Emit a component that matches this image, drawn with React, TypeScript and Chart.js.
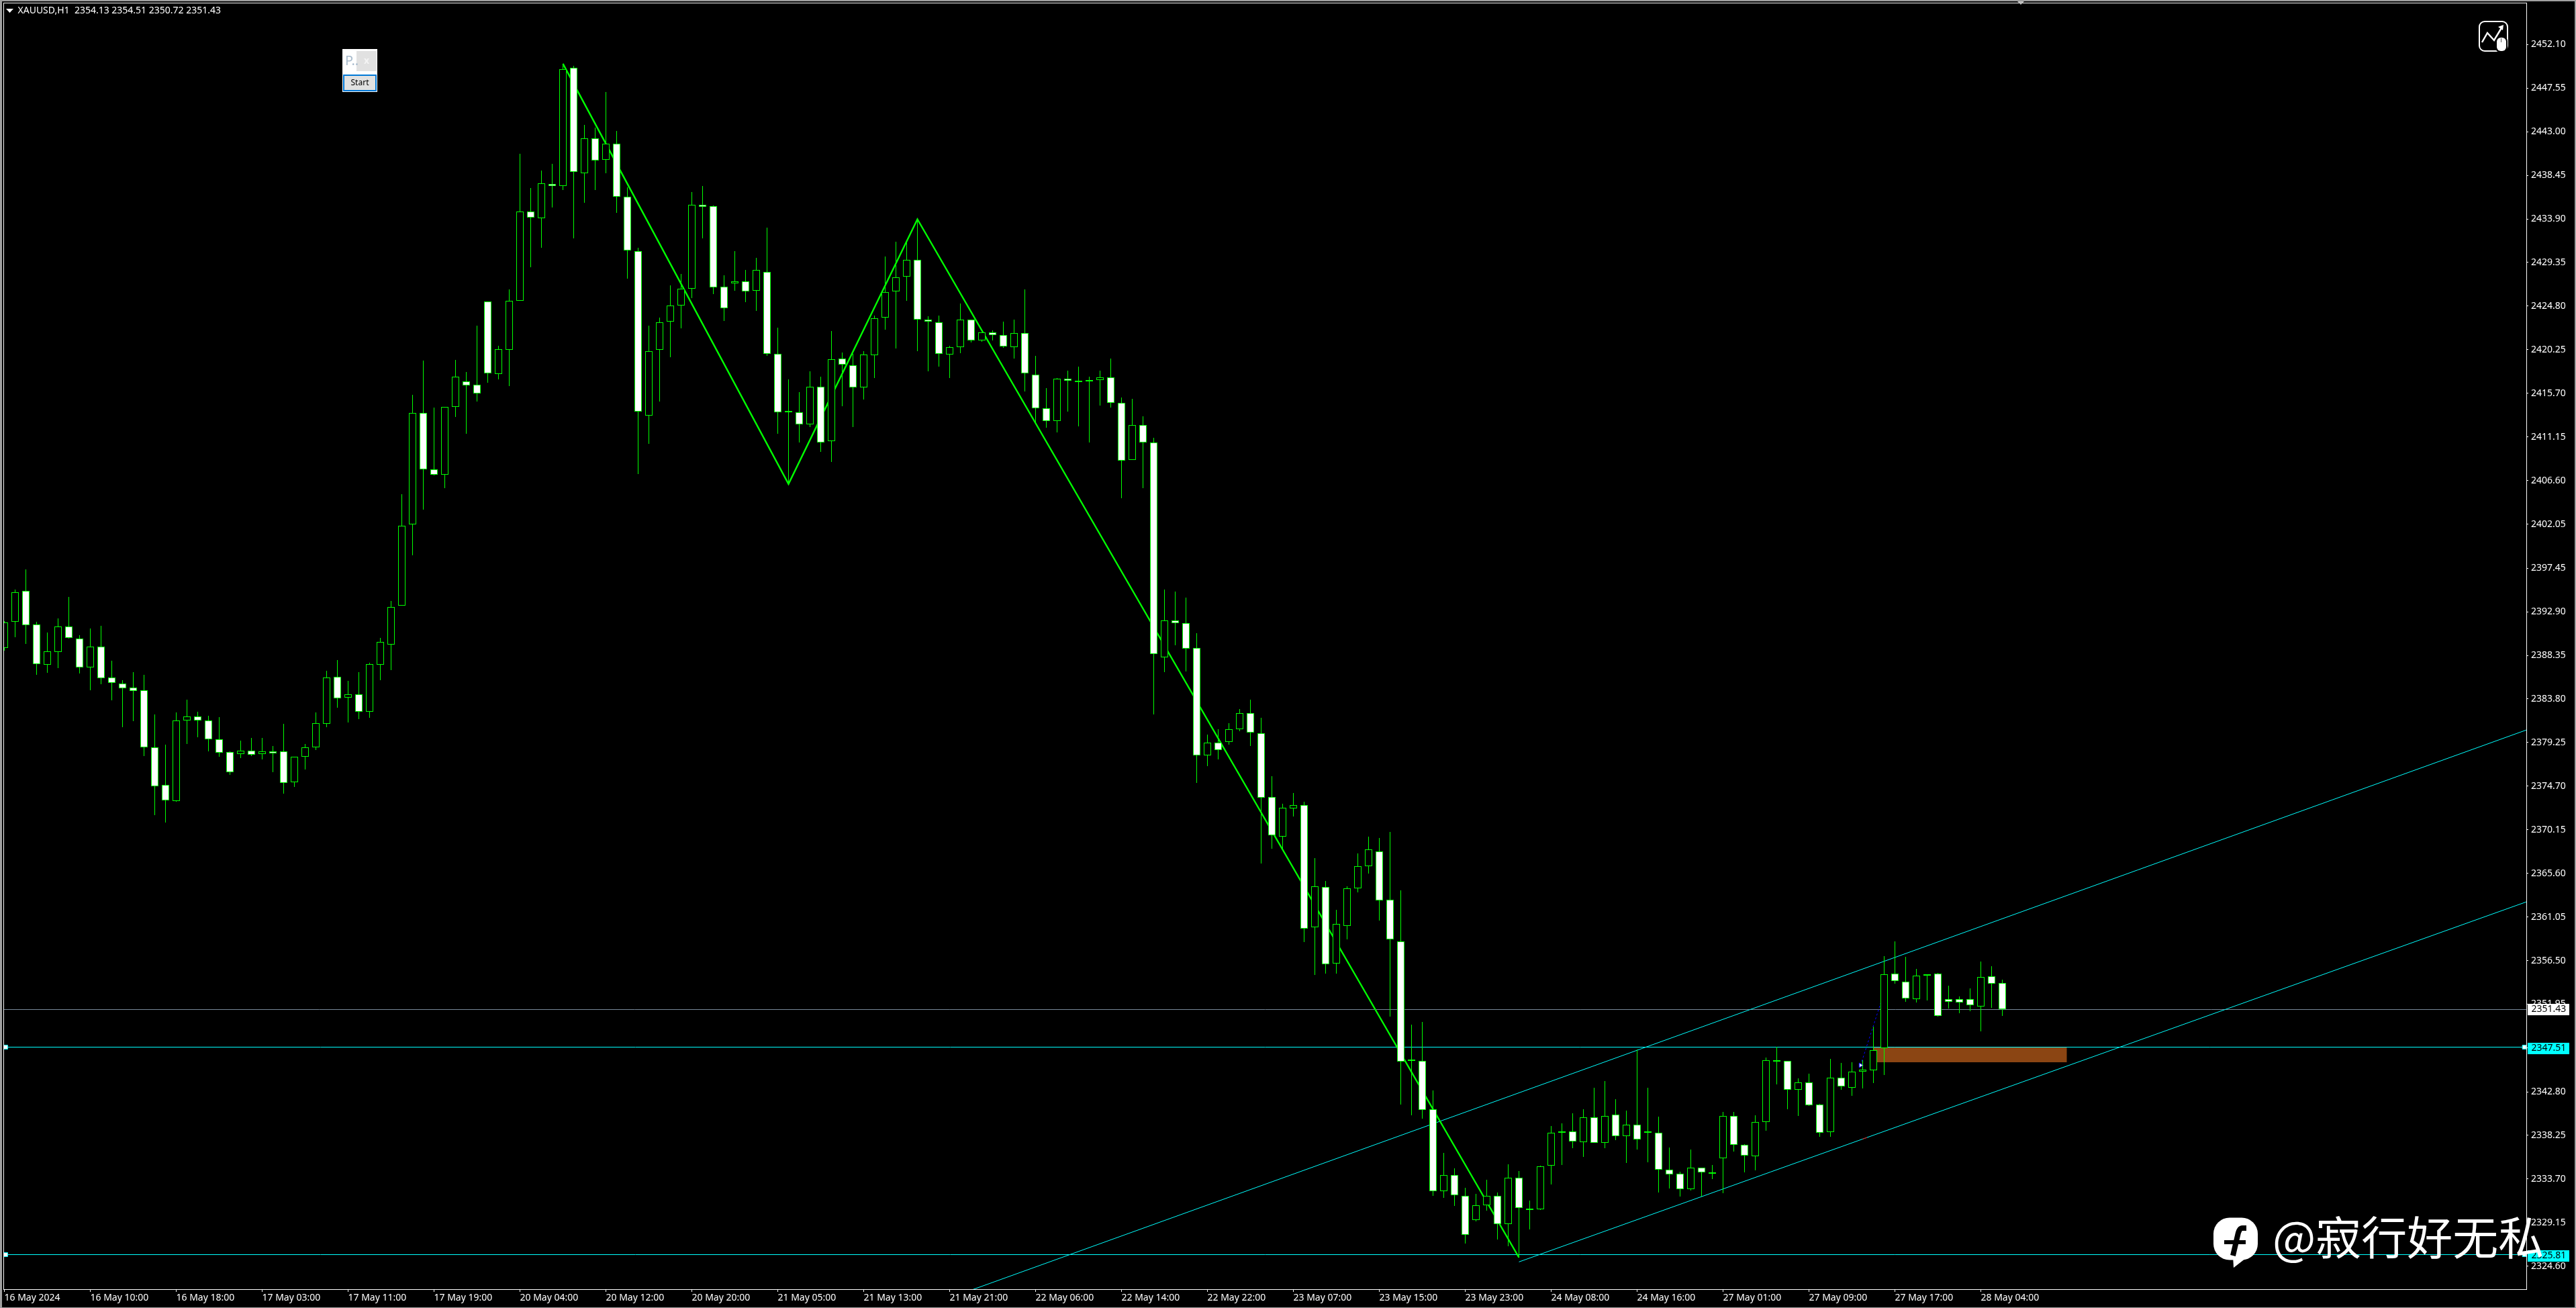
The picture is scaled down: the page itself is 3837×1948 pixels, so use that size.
import React, { useEffect, useRef } from "react";
import { Chart, registerables } from "chart.js";

Chart.register(...registerables);

// Index of the first candle (partly hidden behind the left frame)
const firstBar = -1;

const opens = [
  2389.09, 2391.87, 2395.05, 2391.55, 2387.39, 2388.72, 2391.35, 2390.14, 2387.12, 2389.24,
  2386.01, 2385.44, 2384.96, 2384.69, 2378.78, 2374.80, 2373.17, 2381.58, 2382.01, 2381.58,
  2379.56, 2378.23, 2378.08, 2378.43, 2378.08, 2378.30, 2378.30, 2375.13, 2377.78, 2378.78,
  2381.23, 2386.09, 2383.96, 2384.26, 2382.48, 2387.39, 2389.49, 2393.55, 2402.05, 2413.65,
  2407.80, 2407.24, 2414.31, 2416.97, 2416.62, 2425.26, 2417.75, 2420.25, 2425.39, 2434.65,
  2433.99, 2437.53, 2437.31, 2449.70, 2438.68, 2442.28, 2440.09, 2441.72, 2436.24, 2430.52,
  2413.40, 2420.25, 2423.19, 2424.88, 2426.64, 2435.40, 2435.21, 2426.86, 2427.20, 2427.36,
  2426.42, 2428.39, 2419.85, 2413.87, 2413.75, 2412.49, 2416.40, 2410.68, 2419.35, 2418.60,
  2416.35, 2419.71, 2423.57, 2426.36, 2427.90, 2429.65, 2423.36, 2423.14, 2419.78, 2420.50,
  2423.36, 2421.25, 2422.03, 2421.75, 2420.50, 2421.96, 2417.67, 2414.17, 2412.84, 2417.21,
  2416.85, 2417.06, 2417.06, 2417.39, 2414.67, 2408.77, 2412.41, 2410.59, 2388.17, 2392.03,
  2391.75, 2389.14, 2377.89, 2379.25, 2379.34, 2380.66, 2382.30, 2380.23, 2373.58, 2369.41,
  2372.41, 2372.74, 2359.95, 2364.16, 2356.20, 2360.13, 2364.07, 2366.37, 2367.87, 2362.85,
  2358.50, 2346.08, 2346.03, 2340.97, 2332.45, 2334.13, 2331.93, 2329.45, 2330.95, 2331.93,
  2329.03, 2333.85, 2330.62, 2330.53, 2335.07, 2338.65, 2338.64, 2337.57, 2340.11, 2337.49,
  2340.39, 2338.20, 2339.40, 2338.64, 2338.51, 2334.70, 2334.22, 2332.67, 2334.85, 2334.42,
  2335.89, 2340.26, 2337.24, 2336.10, 2339.63, 2346.10, 2346.05, 2342.98, 2343.77, 2341.50,
  2338.61, 2344.25, 2343.23, 2344.93, 2345.06, 2347.35, 2355.11, 2354.33, 2352.45, 2355.04,
  2355.11, 2352.45, 2352.45, 2352.45, 2351.71, 2354.83, 2354.13,
];

const highs = [
  2391.92, 2395.23, 2397.33, 2391.85, 2390.72, 2392.20, 2394.45, 2390.44, 2391.14, 2391.42,
  2387.79, 2385.76, 2386.59, 2386.31, 2382.18, 2379.03, 2382.38, 2383.71, 2382.46, 2382.03,
  2381.91, 2378.33, 2379.46, 2379.73, 2379.73, 2378.88, 2381.21, 2377.80, 2379.11, 2382.38,
  2386.74, 2387.86, 2385.69, 2386.59, 2387.57, 2390.17, 2394.02, 2405.16, 2415.54, 2419.13,
  2414.22, 2414.31, 2419.19, 2417.91, 2422.76, 2425.32, 2420.66, 2426.54, 2440.69, 2437.12,
  2438.93, 2439.65, 2450.10, 2449.85, 2443.72, 2443.47, 2447.16, 2443.09, 2437.18, 2430.89,
  2422.73, 2423.60, 2426.95, 2428.14, 2436.71, 2437.31, 2435.34, 2428.01, 2430.55, 2428.61,
  2429.86, 2433.02, 2422.54, 2417.16, 2415.84, 2418.03, 2417.44, 2422.19, 2419.94, 2419.82,
  2420.10, 2423.82, 2429.97, 2431.51, 2431.44, 2433.87, 2423.75, 2423.82, 2420.68, 2425.07,
  2423.36, 2422.03, 2422.29, 2423.18, 2423.36, 2426.54, 2419.60, 2416.24, 2417.31, 2418.07,
  2418.46, 2417.46, 2418.07, 2419.35, 2415.24, 2415.13, 2413.27, 2411.06, 2395.25, 2395.00,
  2394.36, 2390.68, 2380.09, 2380.66, 2381.31, 2382.72, 2383.75, 2381.87, 2375.74, 2372.88,
  2374.00, 2373.11, 2367.16, 2364.82, 2361.82, 2364.26, 2367.68, 2369.41, 2369.27, 2369.93,
  2363.84, 2349.83, 2350.11, 2342.94, 2336.43, 2334.84, 2332.77, 2332.12, 2333.62, 2332.31,
  2335.21, 2334.51, 2331.46, 2335.12, 2339.24, 2339.52, 2340.59, 2340.97, 2343.21, 2343.92,
  2342.06, 2340.85, 2347.22, 2343.21, 2340.18, 2336.99, 2334.45, 2336.76, 2334.85, 2335.16,
  2340.69, 2340.69, 2337.37, 2340.34, 2346.38, 2347.52, 2346.05, 2344.17, 2344.68, 2341.56,
  2346.23, 2345.82, 2345.87, 2346.13, 2349.63, 2356.94, 2358.47, 2356.89, 2355.60, 2355.10,
  2355.22, 2353.87, 2352.73, 2353.59, 2356.38, 2355.90, 2354.51,
];

const lows = [
  2388.87, 2390.24, 2389.54, 2386.34, 2386.51, 2387.04, 2390.09, 2386.47, 2384.74, 2385.34,
  2383.66, 2380.86, 2381.48, 2377.85, 2371.67, 2370.90, 2373.07, 2379.11, 2379.83, 2378.33,
  2377.75, 2375.88, 2377.63, 2377.83, 2377.48, 2376.15, 2373.90, 2374.60, 2376.43, 2378.45,
  2380.86, 2382.89, 2381.33, 2381.69, 2381.83, 2385.76, 2386.82, 2393.55, 2398.78, 2403.56,
  2407.14, 2405.77, 2413.21, 2411.49, 2414.81, 2416.84, 2417.19, 2416.47, 2425.39, 2428.83,
  2430.92, 2435.12, 2436.93, 2431.89, 2435.62, 2436.90, 2438.68, 2434.55, 2427.67, 2407.30,
  2410.40, 2414.81, 2419.47, 2422.51, 2425.64, 2431.89, 2426.05, 2423.26, 2426.39, 2425.23,
  2424.32, 2419.63, 2411.49, 2406.24, 2410.58, 2412.15, 2409.62, 2408.55, 2414.37, 2412.20,
  2415.02, 2417.31, 2422.36, 2420.39, 2425.36, 2420.07, 2418.03, 2418.49, 2417.31, 2419.92,
  2421.03, 2421.07, 2421.25, 2420.42, 2419.32, 2415.92, 2412.66, 2412.13, 2411.59, 2413.77,
  2412.24, 2410.55, 2414.42, 2414.20, 2404.76, 2408.77, 2405.80, 2382.20, 2386.60, 2389.38,
  2386.67, 2375.03, 2376.81, 2377.52, 2379.02, 2380.42, 2378.92, 2366.65, 2368.15, 2368.15,
  2371.52, 2358.40, 2354.98, 2355.12, 2355.12, 2358.73, 2363.60, 2365.57, 2360.70, 2350.67,
  2341.49, 2340.37, 2339.99, 2331.93, 2331.70, 2330.90, 2326.96, 2329.26, 2330.43, 2327.39,
  2326.68, 2325.51, 2328.46, 2330.48, 2333.10, 2335.16, 2336.91, 2336.00, 2337.49, 2336.91,
  2337.75, 2335.39, 2336.76, 2335.46, 2332.31, 2332.69, 2331.88, 2332.49, 2331.86, 2333.69,
  2332.24, 2336.55, 2334.42, 2334.60, 2338.76, 2343.56, 2340.98, 2340.29, 2341.30, 2338.13,
  2338.13, 2343.03, 2342.39, 2343.16, 2343.71, 2344.55, 2354.07, 2352.22, 2352.12, 2352.35,
  2350.65, 2351.46, 2351.03, 2351.23, 2349.12, 2351.59, 2350.72,
];

const closes = [
  2391.82, 2394.97, 2391.52, 2387.47, 2388.74, 2391.35, 2390.19, 2387.12, 2389.24, 2385.99,
  2385.49, 2384.94, 2384.66, 2378.78, 2374.70, 2373.22, 2381.58, 2382.01, 2381.58, 2379.61,
  2378.20, 2376.18, 2378.38, 2378.00, 2378.30, 2378.13, 2375.05, 2377.80, 2378.78, 2381.31,
  2386.01, 2383.89, 2384.26, 2382.48, 2387.42, 2389.79, 2393.37, 2401.91, 2413.65, 2407.79,
  2407.21, 2414.31, 2417.41, 2416.56, 2415.65, 2417.81, 2420.28, 2425.39, 2434.65, 2434.08,
  2437.59, 2437.31, 2449.51, 2438.78, 2442.28, 2440.03, 2441.72, 2436.24, 2430.64, 2413.81,
  2420.13, 2423.13, 2424.88, 2426.64, 2435.40, 2435.18, 2426.79, 2424.60, 2427.36, 2426.36,
  2428.61, 2419.85, 2413.75, 2413.75, 2412.49, 2416.40, 2410.58, 2419.28, 2418.72, 2416.35,
  2419.78, 2423.50, 2426.29, 2427.79, 2429.65, 2423.36, 2423.21, 2419.85, 2420.50, 2423.36,
  2421.25, 2422.03, 2421.75, 2420.57, 2421.96, 2417.81, 2414.17, 2412.84, 2417.21, 2416.99,
  2416.99, 2416.99, 2417.39, 2414.67, 2408.70, 2412.41, 2410.59, 2388.46, 2392.03, 2391.75,
  2389.03, 2377.89, 2379.25, 2378.45, 2380.66, 2382.30, 2380.28, 2373.53, 2369.55, 2372.46,
  2372.74, 2359.81, 2364.26, 2356.11, 2360.32, 2364.07, 2366.37, 2368.10, 2362.80, 2358.73,
  2345.94, 2346.17, 2340.93, 2332.45, 2334.13, 2331.98, 2327.90, 2330.95, 2331.93, 2329.03,
  2333.85, 2330.71, 2330.53, 2335.02, 2338.54, 2338.60, 2337.65, 2340.11, 2337.49, 2340.31,
  2338.20, 2339.35, 2337.85, 2338.51, 2334.70, 2334.19, 2332.67, 2334.85, 2334.42, 2334.27,
  2340.31, 2337.24, 2336.17, 2339.68, 2346.13, 2346.00, 2342.98, 2343.77, 2341.43, 2338.56,
  2344.25, 2343.33, 2344.93, 2345.11, 2347.17, 2355.04, 2354.40, 2352.52, 2354.94, 2354.94,
  2350.75, 2352.17, 2352.14, 2351.81, 2354.76, 2354.12, 2351.43,
];

const priceTicks = [
  2452.10, 2447.55, 2443.00, 2438.45, 2433.90, 2429.35, 2424.80, 2420.25, 2415.70, 2411.15,
  2406.60, 2402.05, 2397.45, 2392.90, 2388.35, 2383.80, 2379.25, 2374.70, 2370.15, 2365.60,
  2361.05, 2356.50, 2351.95, 2347.40, 2342.80, 2338.25, 2333.70, 2329.15, 2324.60,
];

const timeTickBars = [
  -1, 7, 15, 23, 31, 39, 47, 55, 63, 71, 79, 87, 95, 103, 111, 119, 127, 135, 143, 151, 159, 167,
  175, 183,
];
const timeTickLabels = [
  "16 May 2024", "16 May 10:00", "16 May 18:00", "17 May 03:00", "17 May 11:00", "17 May 19:00",
  "20 May 04:00", "20 May 12:00", "20 May 20:00", "21 May 05:00", "21 May 13:00", "21 May 21:00",
  "22 May 06:00", "22 May 14:00", "22 May 22:00", "23 May 07:00", "23 May 15:00", "23 May 23:00",
  "24 May 08:00", "24 May 16:00", "27 May 01:00", "27 May 09:00", "27 May 17:00", "28 May 04:00",
];

const zigzagBars = [51, 72, 84, 140];
const zigzagPrices = [2450.1, 2406.24, 2433.87, 2325.51];

const upperChannelBars = [88.85, 233.8];
const upperChannelPrices = [2322.04, 2380.57];
const lowerChannelBars = [140, 233.8];
const lowerChannelPrices = [2325.05, 2362.63];

const bidPrice = 2351.43;
const supportPrice = 2347.51;
const lowPrice = 2325.81;

const zoneBars = [173, 191];
const zonePrices = [2347.51, 2345.88];

const tradeBars = [171.8, 174];
const tradePrices = [2345.57, 2353.17];
const stopTickBars = [172, 172.4];
const stopTickPrices = [2337.87, 2338.03];

const legendText = "XAUUSD,H1  2354.13 2354.51 2350.72 2351.43";
const watermarkText = "@寂行好无私";

const GREEN = "#00ff00";
const CYAN = "#00ffff";
const GREY = "#778899";
const UI_FONT = '"Noto Sans"';

// Scale limits: 16 px per bar, price window of the terminal
const xMin = -1.03125;
const xMax = 233.78125;
const yMin = 2322.2;
const yMax = 2456.4;

const pts = (xs: number[], ys: number[]) => xs.map((x, i) => ({ x, y: ys[i] }));

const snapPlugin = {
  id: "snap",
  beforeDatasetDraw(_chart: any, args: any) {
    const { meta } = args;
    if (meta.type === "bar") {
      meta.data.forEach((el: any) => {
        let top = Math.round(Math.min(el.y, el.base));
        let bot = Math.round(Math.max(el.y, el.base));
        if (meta.controller.getDataset().isBody && bot - top < 2) bot = top + 2;
        if (bot - top < 1) bot = top + 1;
        el.y = top;
        el.base = bot;
      });
    } else if (meta.controller.getDataset().snapY) {
      meta.data.forEach((el: any) => {
        el.y = Math.round(el.y) + 0.5;
      });
    }
  },
};

const backdropPlugin = {
  id: "backdrop",
  beforeDraw(chart: any) {
    const { ctx, width, height } = chart;
    ctx.save();
    ctx.fillStyle = "#000";
    ctx.fillRect(0, 0, width, height);
    ctx.restore();
  },
  beforeDatasetsDraw(chart: any) {
    const { ctx, scales } = chart;
    const { x, y } = scales;
    ctx.save();
    ctx.fillStyle = "#8b4513";
    const x0 = x.getPixelForValue(zoneBars[0]);
    const x1 = x.getPixelForValue(zoneBars[1]);
    const y0 = y.getPixelForValue(zonePrices[0]);
    const y1 = y.getPixelForValue(zonePrices[1]);
    ctx.fillRect(x0, Math.round(y0), x1 - x0, Math.round(y1 - y0));
    ctx.restore();
  },
};

const overlayPlugin = {
  id: "overlay",
  afterDraw(chart: any) {
    const { ctx, width, height, chartArea, scales } = chart;
    const { y } = scales;
    ctx.save();

    // window edge
    ctx.fillStyle = "#a0a0a0";
    ctx.fillRect(0, 0, width, 2);
    ctx.fillRect(0, 0, 3, height);
    ctx.fillRect(width - 2, 0, 2, height);
    ctx.fillRect(0, height - 1, width, 1);

    // chart frame
    ctx.strokeStyle = "#ffffff";
    ctx.lineWidth = 1;
    ctx.strokeRect(
      chartArea.left - 0.5,
      chartArea.top - 0.5,
      chartArea.right - chartArea.left + 1,
      chartArea.bottom - chartArea.top + 1
    );

    // shift marker on the top edge
    ctx.fillStyle = "#c0c0c0";
    ctx.beginPath();
    ctx.moveTo(3005, 2);
    ctx.lineTo(3015, 2);
    ctx.lineTo(3010, 7);
    ctx.closePath();
    ctx.fill();

    // legend
    ctx.fillStyle = "#ffffff";
    ctx.beginPath();
    ctx.moveTo(9, 13);
    ctx.lineTo(20, 13);
    ctx.lineTo(14.5, 19);
    ctx.closePath();
    ctx.fill();
    ctx.textBaseline = "middle";
    ctx.textAlign = "left";
    ctx.font = `14px ${UI_FONT}`;
    ctx.fillText(legendText, 26.5, 16);

    // small panel
    ctx.fillStyle = "#ffffff";
    ctx.fillRect(510, 73, 52, 64);
    ctx.fillStyle = "#e1e1e1";
    ctx.fillRect(531, 76, 30, 30);
    ctx.fillStyle = "#a9bccd";
    ctx.font = `20px ${UI_FONT}`;
    ctx.fillText("P..", 514, 91);
    ctx.fillStyle = "#f4f4f4";
    ctx.font = `bold 14px ${UI_FONT}`;
    ctx.textAlign = "center";
    ctx.fillText("x", 546, 91);
    ctx.fillStyle = "#e1e1e1";
    ctx.fillRect(511, 111, 50, 25);
    ctx.strokeStyle = "#0078d7";
    ctx.lineWidth = 2;
    ctx.strokeRect(512, 112, 48, 23);
    ctx.fillStyle = "#000";
    ctx.font = `12px ${UI_FONT}`;
    ctx.fillText("Start", 536, 124);

    // price tags
    ctx.textAlign = "left";
    ctx.font = `14px ${UI_FONT}`;
    const tag = (value: number, bg: string) => {
      const py = Math.round(y.getPixelForValue(value));
      ctx.fillStyle = bg;
      ctx.fillRect(3765, py - 8 + (bg === CYAN ? 2 : -0), 62, 17);
      ctx.fillStyle = "#000";
      ctx.fillText(value.toFixed(2), 3770.5, py + (bg === CYAN ? 2.5 : 0.5));
    };
    tag(bidPrice, "#ffffff");
    tag(supportPrice, CYAN);
    tag(lowPrice, CYAN);

    // tool icon
    ctx.strokeStyle = "#ffffff";
    ctx.lineWidth = 2;
    ctx.beginPath();
    ctx.roundRect(3693, 32, 42, 44, 8);
    ctx.stroke();
    ctx.lineWidth = 2.5;
    ctx.beginPath();
    ctx.moveTo(3697, 63);
    ctx.lineTo(3705, 49);
    ctx.lineTo(3715, 60);
    ctx.lineTo(3727, 40);
    ctx.stroke();
    ctx.fillStyle = "#ffffff";
    ctx.beginPath();
    ctx.moveTo(3729, 37);
    ctx.lineTo(3721, 40);
    ctx.lineTo(3728, 45);
    ctx.closePath();
    ctx.fill();
    ctx.fillStyle = "#000";
    ctx.beginPath();
    ctx.roundRect(3717, 54, 18, 24, 7);
    ctx.fill();
    ctx.fillStyle = "#ffffff";
    ctx.beginPath();
    ctx.roundRect(3719, 56, 14, 20, 6);
    ctx.fill();
    ctx.strokeStyle = "#555";
    ctx.lineWidth = 1;
    ctx.beginPath();
    ctx.moveTo(3725.5, 57);
    ctx.lineTo(3725.5, 63);
    ctx.stroke();

    // watermark
    ctx.fillStyle = "#ffffff";
    ctx.beginPath();
    ctx.roundRect(3297, 1813.5, 66, 63, 24);
    ctx.fill();
    ctx.beginPath();
    ctx.moveTo(3326, 1870);
    ctx.lineTo(3327, 1888);
    ctx.lineTo(3345, 1874);
    ctx.closePath();
    ctx.fill();
    ctx.strokeStyle = "#000";
    ctx.lineWidth = 8;
    ctx.beginPath();
    ctx.moveTo(3346, 1829);
    ctx.lineTo(3340, 1829);
    ctx.quadraticCurveTo(3335, 1829, 3333, 1840);
    ctx.lineTo(3326, 1870);
    ctx.stroke();
    ctx.lineWidth = 6;
    ctx.beginPath();
    ctx.moveTo(3313, 1850);
    ctx.lineTo(3345, 1850);
    ctx.stroke();
    ctx.fillStyle = "#ffffff";
    ctx.font = '68px "Noto Sans CJK SC"';
    ctx.textAlign = "left";
    ctx.textBaseline = "alphabetic";
    ctx.fillText(watermarkText, 3385, 1869);

    ctx.restore();
  },
};

export default function App() {
  const ref = useRef<HTMLCanvasElement | null>(null);

  useEffect(() => {
    document.body.style.margin = "0";
    document.body.style.background = "#000";
    if (!ref.current) return;

    const bars = opens.map((_, i) => firstBar + i);
    const wickData = bars.map((x, i) => ({ x, y: [lows[i], highs[i]] }));
    const bodyData = bars.map((x, i) => ({ x, y: [opens[i], closes[i]] }));
    const bodyFill = bars.map((_, i) => (closes[i] < opens[i] ? "#ffffff" : "#000000"));

    const hline = (value: number, color: string, handles: boolean) => {
      const xs = handles ? [xMin, -0.875, 233.6, xMax] : [xMin, xMax];
      return {
        type: "line",
        label: `Level ${value}`,
        snapY: true,
        order: 6,
        data: xs.map((x) => ({ x, y: value })),
        borderColor: color,
        borderWidth: 1,
        pointRadius: handles ? [0, 4.2, 4.2, 0] : 0,
        pointStyle: "rect",
        pointBackgroundColor: "#ffffff",
        pointBorderColor: color,
        pointBorderWidth: 1,
      };
    };

    const chart = new Chart(ref.current, {
      type: "bar",
      data: {
        datasets: [
          hline(bidPrice, GREY, false),
          hline(supportPrice, CYAN, true),
          hline(lowPrice, CYAN, true),
          {
            type: "line",
            label: "Upper channel",
            order: 5,
            data: pts(upperChannelBars, upperChannelPrices),
            borderColor: CYAN,
            borderWidth: 1,
            pointRadius: 0,
          },
          {
            type: "line",
            label: "Lower channel",
            order: 5,
            data: pts(lowerChannelBars, lowerChannelPrices),
            borderColor: CYAN,
            borderWidth: 1,
            pointRadius: 0,
          },
          {
            type: "line",
            label: "Stop tick",
            order: 4.5,
            data: pts(stopTickBars, stopTickPrices),
            borderColor: "#ff0000",
            borderWidth: 1,
            pointRadius: 0,
          },
          {
            type: "line",
            label: "Zigzag",
            order: 4,
            data: pts(zigzagBars, zigzagPrices),
            borderColor: GREEN,
            borderWidth: 2.4,
            pointRadius: 0,
          },
          {
            type: "line",
            label: "Trade",
            order: 3,
            data: pts(tradeBars, tradePrices),
            borderColor: "#0000ff",
            borderWidth: 1,
            borderDash: [3, 3],
            pointRadius: [4, 0],
            pointStyle: "triangle",
            rotation: 90,
            pointBackgroundColor: "#ffffff",
            pointBorderColor: "#0000ff",
            pointBorderWidth: 1,
          },
          {
            type: "bar",
            label: "High-Low",
            order: 2,
            data: wickData,
            backgroundColor: GREEN,
            borderWidth: 0,
            barThickness: 1,
            grouped: false,
            inflateAmount: 0,
          },
          {
            type: "bar",
            label: "Open-Close",
            isBody: true,
            order: 1,
            data: bodyData,
            backgroundColor: bodyFill,
            borderColor: GREEN,
            borderWidth: 1,
            borderSkipped: false,
            barThickness: 11,
            grouped: false,
            inflateAmount: 0,
          },
        ] as any,
      },
      options: {
        responsive: false,
        animation: false,
        devicePixelRatio: 1,
        layout: { padding: { left: 6, top: 5, right: 0, bottom: 0 } },
        plugins: { legend: { display: false }, title: { display: false }, tooltip: { enabled: false } },
        events: [],
        scales: {
          x: {
            type: "linear",
            min: xMin,
            max: xMax,
            offset: false,
            position: "bottom",
            border: { display: false },
            grid: {
              offset: false,
              drawOnChartArea: false,
              drawTicks: true,
              tickLength: 4,
              tickColor: "#ffffff",
            },
            afterBuildTicks: (axis: any) => {
              axis.ticks = timeTickBars.map((value) => ({ value }));
            },
            afterFit: (axis: any) => {
              axis.height = 28;
              axis.paddingLeft = 0;
              axis.paddingRight = 0;
            },
            ticks: {
              autoSkip: false,
              maxRotation: 0,
              minRotation: 0,
              align: "start",
              padding: 1,
              color: "#ffffff",
              font: { family: UI_FONT, size: 14 },
              callback: (_v: any, i: number) => timeTickLabels[i],
            },
          },
          y: {
            type: "linear",
            position: "right",
            min: yMin,
            max: yMax,
            beginAtZero: false,
            border: { display: false },
            grid: {
              drawOnChartArea: false,
              drawTicks: true,
              tickLength: 3,
              tickColor: "#ffffff",
            },
            afterBuildTicks: (axis: any) => {
              axis.ticks = priceTicks.map((value) => ({ value }));
            },
            afterFit: (axis: any) => {
              axis.width = 74;
              axis.paddingTop = 0;
              axis.paddingBottom = 0;
            },
            ticks: {
              autoSkip: false,
              padding: 4,
              color: "#ffffff",
              font: { family: UI_FONT, size: 14 },
              callback: (v: any) => Number(v).toFixed(2),
            },
          },
        },
      } as any,
      plugins: [backdropPlugin, snapPlugin, overlayPlugin],
    } as any);

    return () => chart.destroy();
  }, []);

  return <canvas ref={ref} width={3837} height={1948} style={{ display: "block" }} />;
}
